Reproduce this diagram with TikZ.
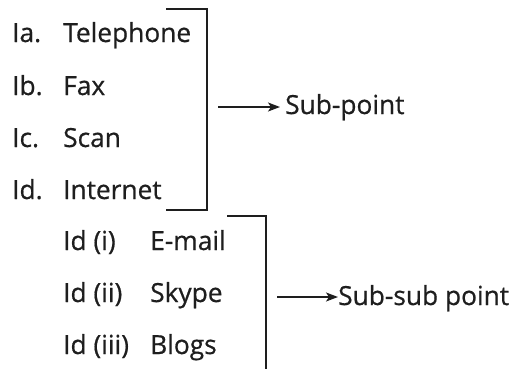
\documentclass[tikz,border=0pt]{standalone}
\usepackage{fontspec}
\newfontfamily\itemfont{Open Sans}[FakeBold=0.6]
\usetikzlibrary{arrows.meta}
\definecolor{ink}{HTML}{1E1E1E}
\begin{document}
\begin{tikzpicture}[x=1pt,y=-1pt,
  item/.style={anchor=base west,inner sep=0pt,font=\itemfont\fontsize{26.3}{31}\selectfont,text=ink},
  brk/.style={draw=ink,line width=1.7pt},
  arr/.style={draw=ink,line width=1.7pt,-{Stealth[length=12pt,width=9pt,inset=3pt]}}]
\useasboundingbox (0,0) rectangle (515,368);
% main list
\node[item] (la) at (12,42) {Ia.};
\node[item] (ta) at (63,42) {Telephone};
\node[item] (lb) at (12,95) {Ib.};
\node[item] (tb) at (63,95) {Fax};
\node[item] (lc) at (12,147) {Ic.};
\node[item] (tc) at (63,147) {Scan};
\node[item] (ld) at (12,199) {Id.};
\node[item] (td) at (63,199) {Internet};
% sub list
\node[item] (l1) at (63,250) {Id (i)};
\node[item] (t1) at (150,250) {E-mail};
\node[item] (l2) at (63,302) {Id (ii)};
\node[item] (t2) at (150,302) {Skype};
\node[item] (l3) at (63,354) {Id (iii)};
\node[item] (t3) at (150,354) {Blogs};
% bracket 1
\coordinate (b1a) at (166,9);
\coordinate (b1b) at (207,9);
\coordinate (b1c) at (207,210);
\coordinate (b1d) at (166,210);
\draw[brk] (b1a) -- (b1b) -- (b1c) -- (b1d);
\coordinate (a1s) at (218,107);
\node[item] (sp) at (285,114) {Sub-point};
\coordinate (a1e) at (280,107);
\draw[arr] (a1s) -- (a1e);
% bracket 2
\coordinate (b2a) at (227,216);
\coordinate (b2b) at (266,216);
\coordinate (b2c) at (266,370);
\draw[brk] (b2a) -- (b2b) -- (b2c);
\coordinate (a2s) at (277,297);
\node[item] (ssp) at (338,305) {Sub-sub point};
\coordinate (a2e) at (338,297);
\draw[arr] (a2s) -- (a2e);
\end{tikzpicture}
\end{document}
